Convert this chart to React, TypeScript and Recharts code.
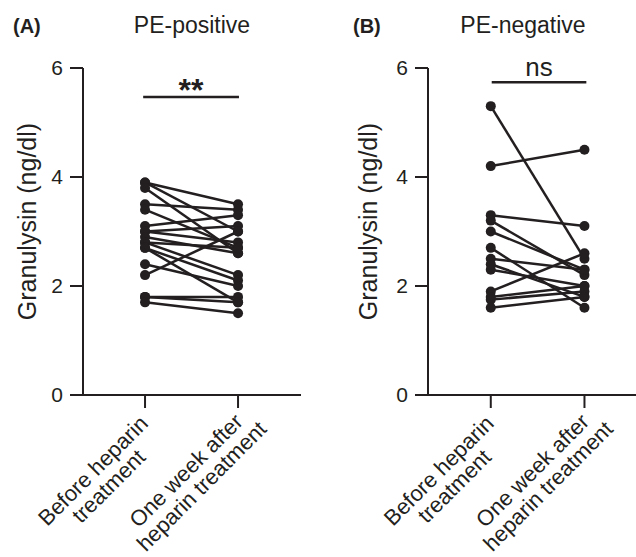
import React from "react";
import {
  LineChart,
  Line,
  XAxis,
  YAxis,
  ReferenceLine,
} from "recharts";

// values (ng/dl), one entry per subject
const posBefore = [3.9, 3.9, 3.8, 3.5, 3.4, 3.1, 3.0, 3.0, 2.9, 2.8, 2.8, 2.7, 2.7, 2.4, 2.2, 1.8, 1.8, 1.7];
const posAfter = [3.5, 3.0, 2.6, 3.4, 2.7, 3.3, 3.1, 2.8, 2.6, 2.2, 2.7, 2.1, 1.7, 2.0, 3.0, 1.8, 1.7, 1.5];
const negBefore = [5.3, 4.2, 3.3, 3.2, 3.0, 2.7, 2.5, 2.4, 2.3, 1.9, 1.8, 1.75, 1.6];
const negAfter = [2.5, 4.5, 3.1, 2.2, 2.3, 1.6, 2.3, 1.8, 2.0, 2.6, 2.0, 1.9, 1.8];

const tickLabels = [
  ["Before heparin", "treatment"],
  ["One week after", "heparin treatment"],
];
const yTicks = [0, 2, 4, 6];

const INK = "#231f20";
const FONT = '"Liberation Sans", Arial, Helvetica, sans-serif';

function buildRows(before: number[], after: number[]) {
  return [before, after].map((vals, i) => {
    const row: Record<string, number> = { x: i };
    vals.forEach((v, k) => (row["s" + k] = v));
    return row;
  });
}

function XTick({ x, y, payload }: any) {
  const lines = tickLabels[payload.value] || [];
  return (
    <g transform={`translate(${x},${y})`}>
      <text transform="rotate(-45)" textAnchor="middle" fill={INK} fontSize={22} fontFamily={FONT}>
        {lines.map((l, i) => (
          <tspan key={i} x={-81} y={15 + i * 22}>
            {l}
          </tspan>
        ))}
      </text>
    </g>
  );
}

function Panel({
  before,
  after,
  width,
  marginLeft,
  marginRight,
  domain,
  sig,
  sigY,
  sigFrom,
  sigTo,
  sigSize,
  sigBold,
  sigOffset,
  labelX,
}: any) {
  const rows = buildRows(before, after);
  return (
    <LineChart
      width={width}
      height={557}
      data={rows}
      margin={{ top: 68, right: marginRight, bottom: 132, left: marginLeft }}
    >
      <XAxis
        dataKey="x"
        type="number"
        domain={domain}
        ticks={[0, 1]}
        allowDataOverflow
        height={30}
        tickSize={13}
        tickMargin={0}
        tick={<XTick />}
        stroke={INK}
        strokeWidth={2}
        tickLine={{ stroke: INK, strokeWidth: 2 }}
      />
      <YAxis
        domain={[0, 6]}
        ticks={yTicks}
        width={60}
        tickSize={13}
        tickMargin={7}
        stroke={INK}
        strokeWidth={2}
        tickLine={{ stroke: INK, strokeWidth: 2 }}
        tick={{ fill: INK, fontSize: 21, fontFamily: FONT }}
        label={{
          content: (p: any) => {
            const vb = p.viewBox || { y: 68, height: 327 };
            const cy = vb.y + vb.height / 2 - 10;
            return (
              <text
                x={labelX}
                y={cy}
                transform={`rotate(-90 ${labelX} ${cy})`}
                textAnchor="middle"
                dominantBaseline="central"
                fill={INK}
                fontSize={25}
                fontFamily={FONT}
              >
                Granulysin (ng/dl)
              </text>
            );
          },
        }}
      />
      {before.map((_: number, k: number) => (
        <Line
          key={k}
          dataKey={"s" + k}
          stroke={INK}
          strokeWidth={2.5}
          dot={{ r: 5, fill: INK, stroke: INK, strokeWidth: 0 }}
          isAnimationActive={false}
        />
      ))}
      <ReferenceLine
        segment={[
          { x: sigFrom, y: sigY },
          { x: sigTo, y: sigY },
        ]}
        stroke={INK}
        strokeWidth={2.5}
        label={{
          value: sig,
          position: "top",
          offset: sigOffset,
          fill: INK,
          fontSize: sigSize,
          fontWeight: sigBold ? "bold" : "normal",
          fontFamily: FONT,
        }}
      />
    </LineChart>
  );
}

export default function App() {
  return (
    <div style={{ position: "absolute", left: 0, top: 0, width: 636, height: 557, background: "#fff", fontFamily: FONT }}>
      <div style={{ position: "absolute", left: 0, top: 0 }}>
        <Panel
          before={posBefore}
          after={posAfter}
          width={320}
          marginLeft={23}
          marginRight={19}
          domain={[-0.667, 1.677]}
          sig="**"
          sigY={5.47}
          sigFrom={-0.02}
          sigTo={1.01}
          sigSize={32}
          sigBold
          sigOffset={-4}
          labelX={27}
        />
      </div>
      <div style={{ position: "absolute", left: 320, top: 0 }}>
        <Panel
          before={negBefore}
          after={negAfter}
          width={316}
          marginLeft={48}
          marginRight={0}
          domain={[-0.67, 1.55]}
          sig="ns"
          sigY={5.74}
          sigFrom={0.01}
          sigTo={1.02}
          sigSize={26}
          sigOffset={6}
          labelX={48}
        />
      </div>
      <svg width={636} height={60} style={{ position: "absolute", left: 0, top: 0, pointerEvents: "none" }}>
        <text x={13} y={33} fontSize={20} fontWeight="bold" fill={INK} fontFamily={FONT}>(A)</text>
        <text x={192} y={33} fontSize={23} textAnchor="middle" fill={INK} fontFamily={FONT}>PE-positive</text>
        <text x={353} y={33} fontSize={20} fontWeight="bold" fill={INK} fontFamily={FONT}>(B)</text>
        <text x={523} y={33} fontSize={23} textAnchor="middle" fill={INK} fontFamily={FONT}>PE-negative</text>
      </svg>
    </div>
  );
}
